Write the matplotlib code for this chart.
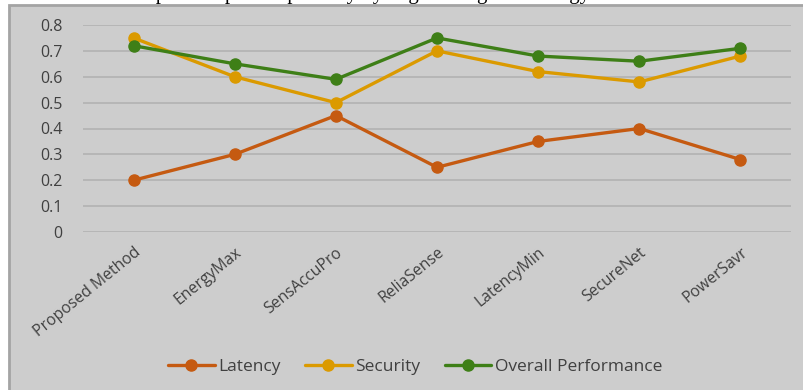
import matplotlib
matplotlib.use("Agg")
import matplotlib.pyplot as plt
from matplotlib.patches import Rectangle

categories = ["Proposed Method", "EnergyMax", "SensAccuPro", "ReliaSense",
              "LatencyMin", "SecureNet", "PowerSavr"]
latency = [0.20, 0.30, 0.45, 0.25, 0.35, 0.40, 0.28]
security = [0.75, 0.60, 0.50, 0.70, 0.62, 0.58, 0.68]
overall = [0.72, 0.65, 0.59, 0.75, 0.68, 0.66, 0.71]
yticks = [0, 0.1, 0.2, 0.3, 0.4, 0.5, 0.6, 0.7, 0.8]
ytick_labels = ["0", "0.1", "0.2", "0.3", "0.4", "0.5", "0.6", "0.7", "0.8"]

plt.rcParams['font.family'] = ['Open Sans', 'DejaVu Sans']

W, H = 804, 390
fig = plt.figure(figsize=(W / 100, H / 100), dpi=100)
fig.patch.set_facecolor("white")

# clipped caption from the page above
fig.text(0.02, 1 + 0.5 / H, "ised and used to provide patient partially by engineering the strategy",
         fontsize=15, family=['Liberation Serif'], ha="left", va="baseline",
         color="black", zorder=-3)

# chart area background
fig.patches.append(Rectangle((9 / W, -0.05), 1.0, 1 - 5 / H + 0.05,
                             transform=fig.transFigure, facecolor="#cdcdcd",
                             edgecolor="#a4a4a4", linewidth=2, zorder=-1))

ax = fig.add_axes([83 / W, 1 - 232 / H, (791 - 83) / W, (232 - 25) / H])
ax.set_facecolor("none")
x = list(range(len(categories)))

ax.plot(x, latency, color="#c55a11", lw=2.4, marker="o", ms=8, label="Latency",
        solid_capstyle="round", zorder=3)
ax.plot(x, security, color="#db9a00", lw=2.4, marker="o", ms=8, label="Security",
        solid_capstyle="round", zorder=3)
ax.plot(x, overall, color="#3e7f17", lw=2.4, marker="o", ms=8, label="Overall Performance",
        solid_capstyle="round", zorder=3)

ax.set_xlim(-0.5, len(categories) - 0.5)
ax.set_ylim(0, 0.8)
ax.set_yticks(yticks)
ax.set_yticklabels(ytick_labels)
ax.set_xticks(x)
ax.set_xticklabels(categories, rotation=39, ha="right", rotation_mode="anchor")
ax.tick_params(axis="both", length=0, colors="#404040")
ax.tick_params(axis="y", pad=15, labelsize=11.5)
ax.tick_params(axis="x", pad=9, labelsize=11.3)
ax.yaxis.grid(True, color="#b0b0b0", lw=1.1)
ax.set_axisbelow(True)
for s in ax.spines.values():
    s.set_visible(False)

leg = fig.legend(loc="center", bbox_to_anchor=(415 / W, 1 - 367 / H), ncol=3,
                 frameon=False, fontsize=12.5, handlelength=2.7, columnspacing=1.4,
                 handletextpad=0.2, labelcolor="#404040")

fig.savefig("out.png", dpi=100, facecolor="white")
